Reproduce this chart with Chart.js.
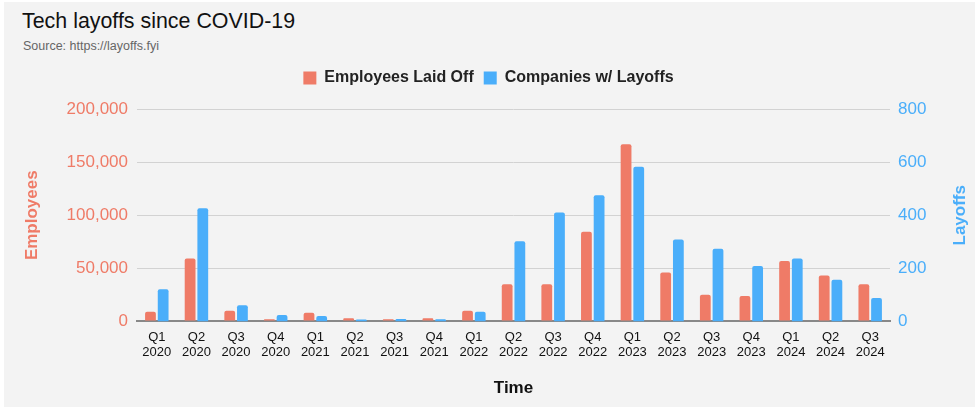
<!DOCTYPE html>
<html>
<head>
<meta charset="utf-8">
<script src="https://cdn.jsdelivr.net/npm/chart.js@4"></script>
<style>
  body { margin: 0; background: #fff; font-family: "Liberation Sans", Arial, sans-serif; }
  #frame { position: absolute; left: 4px; top: 2px; width: 971px; height: 405px; background: #f3f3f3; }
  #title { position: absolute; left: 22px; top: 9px; font-size: 21.4px; color: #111; }
  #subtitle { position: absolute; left: 23px; top: 39px; font-size: 12.5px; color: #666; }
  #wrap { position: absolute; left: 0; top: 0; width: 977px; height: 409px; }
</style>
</head>
<body>
<div id="frame"></div>
<div id="title">Tech layoffs since COVID-19</div>
<div id="subtitle">Source: https://layoffs.fyi</div>
<div id="wrap"><canvas id="chart"></canvas></div>
<script>
const quarters = ['Q1','Q2','Q3','Q4','Q1','Q2','Q3','Q4','Q1','Q2','Q3','Q4','Q1','Q2','Q3','Q4','Q1','Q2','Q3'];
const years = ['2020','2020','2020','2020','2021','2021','2021','2021','2022','2022','2022','2022','2023','2023','2023','2023','2024','2024','2024'];
const employeesLaidOff = [9200, 59200, 10100, 2200, 8200, 3000, 2000, 3000, 10100, 35100, 35100, 84500, 166900, 46100, 25100, 23900, 57000, 43300, 35100];
const companiesWithLayoffs = [121, 426, 61, 24, 21, 7, 9, 8, 37, 302, 410, 475, 583, 309, 274, 209, 237, 157, 88];
const employeeTicks = [0, 50000, 100000, 150000, 200000];
const layoffTicks = [0, 200, 400, 600, 800];

const RED = '#ef7b67';
const BLUE = '#4aaefa';
const FONT = "'Liberation Sans', Arial, sans-serif";

const labels = quarters.map((q, i) => [q, years[i]]);

// right axis title reads bottom-to-top, so draw it by hand
const rightTitle = {
    id: 'rightTitle',
    afterDraw(chart) {
        const y1 = chart.scales.y1;
        const ctx = chart.ctx;
        ctx.save();
        ctx.translate(960, (y1.top + y1.bottom) / 2);
        ctx.rotate(-Math.PI / 2);
        ctx.fillStyle = BLUE;
        ctx.font = 'bold 17px ' + FONT;
        ctx.textAlign = 'center';
        ctx.textBaseline = 'middle';
        ctx.fillText('Layoffs', 0, 0);
        ctx.restore();
    }
};

// extra room under the legend
const legendGap = {
    id: 'legendGap',
    beforeInit(chart) {
        const fit = chart.legend.fit;
        chart.legend.fit = function () {
            fit.bind(chart.legend)();
            this.height += 13;
        };
    }
};

const ctx = document.getElementById('chart').getContext('2d');
const chart = new Chart(ctx, {
    type: 'bar',
    data: {
        labels: labels,
        datasets: [{
            label: 'Employees Laid Off',
            data: employeesLaidOff,
            backgroundColor: RED,
            yAxisID: 'y',
            borderRadius: { topLeft: 2, topRight: 2 },
            borderSkipped: 'bottom'
        }, {
            label: 'Companies w/ Layoffs',
            data: companiesWithLayoffs,
            backgroundColor: BLUE,
            yAxisID: 'y1',
            borderRadius: { topLeft: 2, topRight: 2 },
            borderSkipped: 'bottom'
        }]
    },
    options: {
        responsive: true,
        maintainAspectRatio: false,
        animation: false,
        datasets: { bar: { barPercentage: 0.85, categoryPercentage: 0.64 } },
        layout: { padding: { top: 60, left: 0, right: 0, bottom: 10 } },
        plugins: {
            legend: {
                position: 'top',
                labels: {
                    boxWidth: 13,
                    boxHeight: 13,
                    padding: 10,
                    color: '#222',
                    font: { size: 16, weight: 'bold', family: FONT }
                }
            },
            tooltip: { enabled: false }
        },
        scales: {
            x: {
                grid: { display: false },
                border: { display: true, color: '#888', width: 2 },
                ticks: {
                    color: '#111',
                    maxRotation: 0,
                    autoSkip: false,
                    padding: 1,
                    font: { size: 13, family: FONT, lineHeight: 1.12 }
                },
                title: {
                    display: true,
                    text: 'Time',
                    color: '#111',
                    padding: { top: 18, bottom: 0 },
                    font: { size: 17, weight: 'bold', family: FONT }
                }
            },
            y: {
                position: 'left',
                min: 0,
                max: 200000,
                afterBuildTicks: (scale) => { scale.ticks = employeeTicks.map(v => ({ value: v })); },
                afterFit: (scale) => { scale.width = 137; },
                grid: {
                    drawTicks: false,
                    color: (c) => c.tick && c.tick.value === 0 ? '#888' : '#d2d2d2',
                    lineWidth: (c) => c.tick && c.tick.value === 0 ? 2 : 1
                },
                border: { display: false },
                ticks: {
                    color: RED,
                    padding: 9,
                    font: { size: 17, family: FONT },
                    callback: (v) => v.toLocaleString('en-US')
                },
                title: {
                    display: true,
                    text: 'Employees',
                    color: RED,
                    padding: { top: 22, bottom: 0 },
                    font: { size: 17, weight: 'bold', family: FONT }
                }
            },
            y1: {
                position: 'right',
                min: 0,
                max: 800,
                afterBuildTicks: (scale) => { scale.ticks = layoffTicks.map(v => ({ value: v })); },
                afterFit: (scale) => { scale.width = 87; },
                grid: { display: false, drawTicks: false },
                border: { display: false },
                ticks: {
                    color: BLUE,
                    padding: 8,
                    font: { size: 17, family: FONT }
                }
            }
        }
    },
    plugins: [rightTitle, legendGap]
});
</script>
</body>
</html>
